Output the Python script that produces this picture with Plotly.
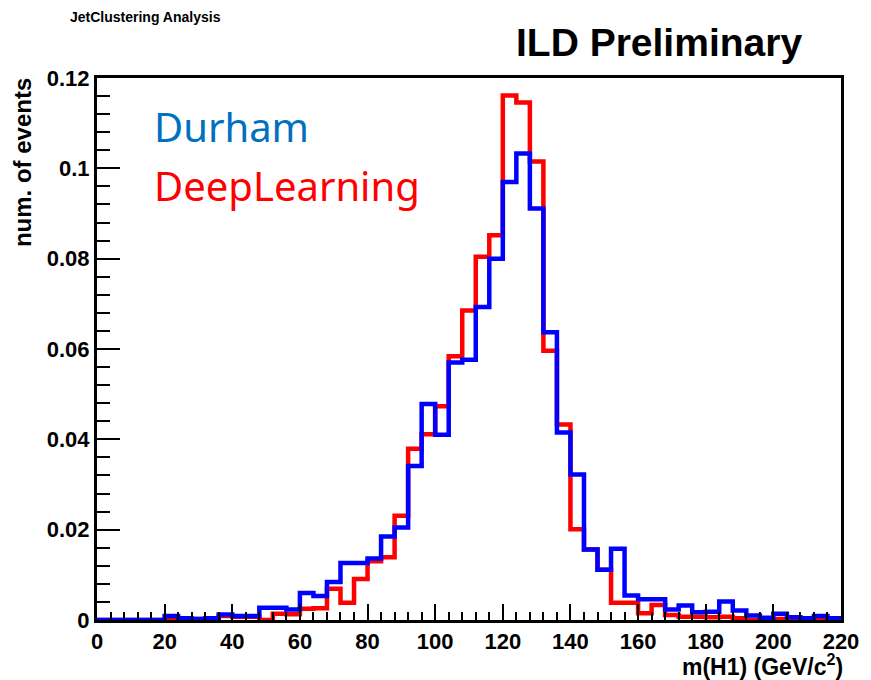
import plotly.graph_objects as go

# Reconstructed jet mass m(H1): normalised event fractions in 4 GeV bins, 0-220 GeV
bin_edges = [0, 4, 8, 12, 16, 20, 24, 28, 32, 36, 40, 44, 48, 52, 56, 60, 64, 68,
             72, 76, 80, 84, 88, 92, 96, 100, 104, 108, 112, 116, 120, 124, 128,
             132, 136, 140, 144, 148, 152, 156, 160, 164, 168, 172, 176, 180, 184,
             188, 192, 196, 200, 204, 208, 212, 216, 220]

deeplearning = [
    0, 0, 0, 0, 0,
    0, 0.0002, 0.0002, 0, 0.0009,
    0.0007, 0.0007, 0, 0.0014, 0.0013,
    0.0025, 0.0026, 0.0069, 0.0038, 0.0091,
    0.0130, 0.0139, 0.0231, 0.0379, 0.0411,
    0.0473, 0.0584, 0.0685, 0.0804, 0.0852,
    0.1161, 0.1146, 0.1015, 0.0596, 0.0433,
    0.0201, 0.0156, 0.0111, 0.0038, 0.0038,
    0.0015, 0.0033, 0.0011, 0.0007, 0.0007,
    0.0006, 0.0007, 0.0004, 0, 0.0002,
    0.0002, 0, 0.0002, 0.0002, 0.0002,
]

durham = [
    0, 0, 0, 0, 0,
    0.0009, 0.0004, 0.0002, 0.0004, 0.0012,
    0.0009, 0.0009, 0.0027, 0.0027, 0.0023,
    0.0060, 0.0053, 0.0084, 0.0126, 0.0126,
    0.0136, 0.0185, 0.0205, 0.0341, 0.0478,
    0.0410, 0.0570, 0.0576, 0.0693, 0.0800,
    0.0970, 0.1033, 0.0911, 0.0637, 0.0415,
    0.0322, 0.0156, 0.0111, 0.0158, 0.0054,
    0.0046, 0.0046, 0.0023, 0.0032, 0.0017,
    0.0018, 0.0041, 0.0021, 0.0010, 0.0005,
    0.0014, 0.0006, 0.0004, 0.0009, 0.0004,
]

x_ticks = [0, 20, 40, 60, 80, 100, 120, 140, 160, 180, 200, 220]
y_ticks = [0, 0.02, 0.04, 0.06, 0.08, 0.1, 0.12]

W, H = 871, 680
M_L, M_R, M_T, M_B = 97, 24, 78, 60
PW = W - M_L - M_R
PH = H - M_T - M_B


def px_x(p):
    return (p - M_L) / PW


def px_y(p):
    return 1 - (p - M_T) / PH


def step_trace(values, color, name):
    # histogram outline: each bin value held flat across its edges
    return go.Scatter(
        x=bin_edges,
        y=values + [values[-1]],
        mode="lines",
        line=dict(shape="hv", color=color, width=4.5),
        name=name,
        showlegend=False,
        hoverinfo="skip",
    )


fig = go.Figure()
fig.add_trace(step_trace(deeplearning, "#ff0000", "DeepLearning"))
fig.add_trace(step_trace(durham, "#0000ff", "Durham"))

tick_font = dict(family="Liberation Sans, Arial, sans-serif", size=22,
                 color="black", weight="bold")

fig.update_xaxes(
    range=[0, 220], tickvals=x_ticks, ticks="inside", ticklen=16, tickwidth=2,
    tickcolor="black", showline=True, linewidth=3, linecolor="black",
    mirror=True, showgrid=False, zeroline=False, tickfont=tick_font,
    minor=dict(dtick=4, ticks="inside", ticklen=8, tickwidth=2,
               tickcolor="black", showgrid=False),
)
fig.update_yaxes(
    range=[0, 0.12], tickvals=y_ticks, ticks="inside", ticklen=23, tickwidth=2,
    tickcolor="black", showline=True, linewidth=3, linecolor="black",
    mirror=True, showgrid=False, zeroline=False, tickfont=tick_font,
    minor=dict(dtick=0.004, ticks="inside", ticklen=13, tickwidth=2,
               tickcolor="black", showgrid=False),
)

bold = "Liberation Sans, Arial, sans-serif"
label_font = "Noto Sans, Lato, sans-serif"

annotations = [
    dict(text="JetClustering Analysis", x=px_x(68), y=px_y(17),
         xanchor="left", yanchor="middle",
         font=dict(family=bold, size=14, color="black", weight="bold")),
    dict(text="ILD Preliminary", x=px_x(517), y=px_y(42),
         xanchor="left", yanchor="middle",
         font=dict(family=bold, size=39, color="black", weight="bold")),
    dict(text="num. of events", x=px_x(22), y=px_y(76), textangle=-90,
         xanchor="center", yanchor="top",
         font=dict(family=bold, size=24, color="black", weight="bold")),
    dict(text="m(H1) (GeV/c<sup>2</sup>)", x=px_x(851), y=px_y(665),
         xanchor="right", yanchor="middle",
         font=dict(family=bold, size=23, color="black", weight="bold")),
    dict(text="Durham", x=px_x(152), y=px_y(126),
         xanchor="left", yanchor="middle",
         font=dict(family=label_font, size=40, color="#0070c0")),
    dict(text="DeepLearning", x=px_x(152), y=px_y(185),
         xanchor="left", yanchor="middle",
         font=dict(family=label_font, size=40, color="#ff0000")),
]
for a in annotations:
    a.update(xref="paper", yref="paper", showarrow=False)

fig.update_layout(
    width=W, height=H,
    margin=dict(l=M_L, r=M_R, t=M_T, b=M_B, pad=0),
    paper_bgcolor="white", plot_bgcolor="white",
    annotations=annotations,
)

fig.write_html("out.html")
